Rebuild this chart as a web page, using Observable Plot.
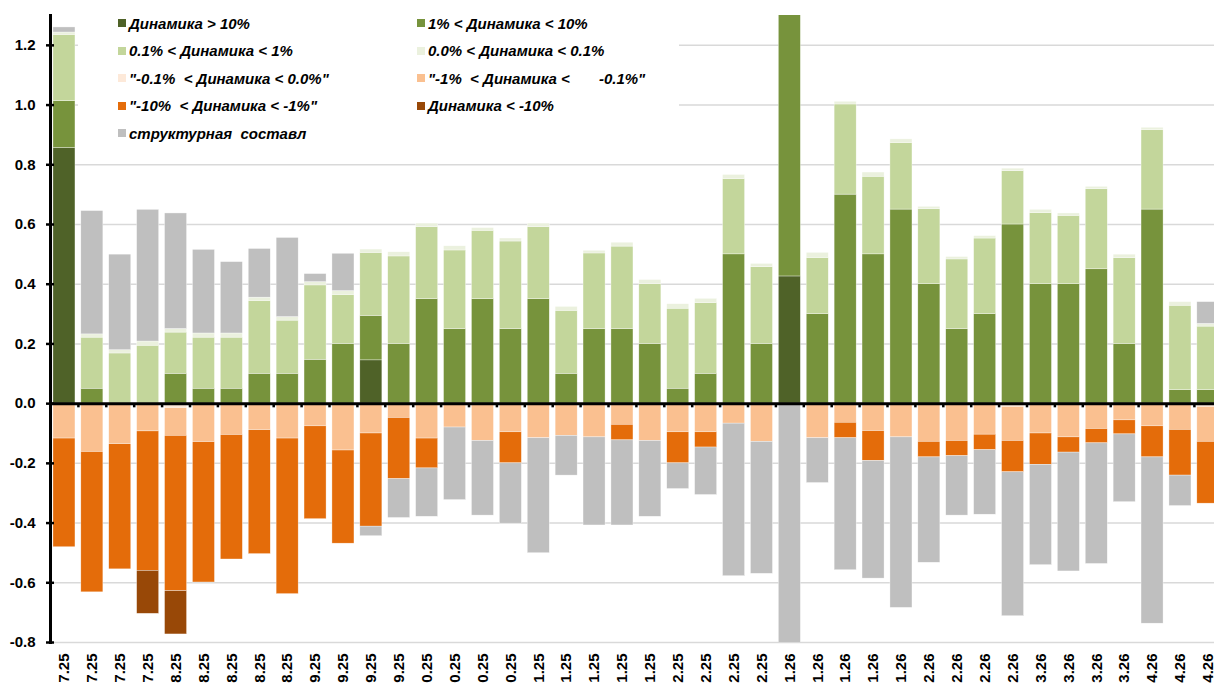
<!DOCTYPE html>
<html><head><meta charset="utf-8">
<script src="https://cdn.jsdelivr.net/npm/d3@7"></script>
<script src="https://cdn.jsdelivr.net/npm/@observablehq/plot@0.6"></script>
<style>
html,body{margin:0;padding:0;background:#fff;}
#wrap{position:relative;width:1214px;height:686px;overflow:hidden;font-family:"Liberation Sans",Arial,sans-serif;}
#legend{position:absolute;left:78px;top:0;width:601px;height:150px;background:#fff;}
.item{position:absolute;display:flex;align-items:center;height:18px;font:italic bold 15px "Liberation Sans",Arial,sans-serif;white-space:pre;color:#000;}
.sw{width:8px;height:8px;margin-right:3px;flex:none;}
</style></head><body>
<div id="wrap"><div id="chart"></div><div id="legend"></div></div>
<script>
const xLabels = ["7.25","7.25","7.25","7.25","8.25","8.25","8.25","8.25","8.25","9.25","9.25","9.25","9.25","0.25","0.25","0.25","0.25","1.25","1.25","1.25","1.25","1.25","2.25","2.25","2.25","2.25","1.26","1.26","1.26","1.26","1.26","2.26","2.26","2.26","2.26","3.26","3.26","3.26","3.26","4.26","4.26","4.26"];
const yTicks = [-0.8,-0.6,-0.4,-0.2,0,0.2,0.4,0.6,0.8,1.0,1.2];

const seriesNames = [
  "Динамика > 10%",
  "1% < Динамика < 10%",
  "0.1% < Динамика < 1%",
  "0.0% < Динамика < 0.1%",
  "\"-0.1%  < Динамика < 0.0%\"",
  "\"-1%  < Динамика <       -0.1%\"",
  "\"-10%  < Динамика < -1%\"",
  "Динамика < -10%",
  "структурная  составл"
];
const seriesColors = ["#4f6228","#77933c","#c3d69b","#ebf1de","#fde9d9","#fac090","#e46c0a","#984807","#bfbfbf"];

const dynOver10 = [0.856,0,0,0,0,0,0,0,0,0, 0,0.145,0,0,0,0,0,0,0,0, 0,0,0,0,0,0,0.426,0,0,0, 0,0,0,0,0,0,0,0,0,0, 0,0];
const dyn1to10 = [0.157,0.05,0,0,0.1,0.05,0.05,0.1,0.1,0.147, 0.2,0.149,0.2,0.35,0.25,0.35,0.25,0.35,0.1,0.25, 0.25,0.2,0.05,0.1,0.5,0.2,0.95,0.3,0.7,0.5, 0.65,0.4,0.25,0.3,0.6,0.4,0.4,0.45,0.2,0.65, 0.045,0.045];
const dyn01to1 = [0.222,0.171,0.168,0.194,0.138,0.171,0.171,0.244,0.178,0.249, 0.164,0.211,0.293,0.241,0.263,0.229,0.293,0.241,0.211,0.253, 0.276,0.2,0.268,0.237,0.252,0.257,0,0.188,0.302,0.26, 0.223,0.251,0.233,0.253,0.179,0.238,0.229,0.268,0.287,0.266, 0.283,0.213];
const dyn0to01 = [0.008,0.011,0.011,0.014,0.012,0.014,0.014,0.011,0.012,0.011, 0.013,0.011,0.014,0.012,0.014,0.009,0.01,0.012,0.013,0.009, 0.013,0.014,0.015,0.014,0.014,0.011,0,0.017,0.009,0.014, 0.012,0.008,0.008,0.008,0.008,0.011,0.008,0.008,0.012,0.008, 0.012,0.009];
const dynM01to0 = [0,0,0,0,-0.015,0,-0.005,0,0,0, 0,0,0,0,0,0,0,0,0,0, 0,0,0,0,0,0,0,0,0,0, 0,0,0,0,-0.011,0,0,0,0,0, 0,-0.011];
const dynM1toM01 = [-0.117,-0.162,-0.136,-0.093,-0.093,-0.129,-0.1,-0.089,-0.117,-0.076, -0.157,-0.1,-0.048,-0.117,-0.08,-0.125,-0.096,-0.116,-0.108,-0.113, -0.071,-0.125,-0.096,-0.096,-0.067,-0.128,0,-0.116,-0.064,-0.092, -0.113,-0.128,-0.125,-0.104,-0.114,-0.1,-0.113,-0.085,-0.056,-0.076, -0.088,-0.117];
const dynM10toM1 = [-0.364,-0.47,-0.419,-0.467,-0.52,-0.47,-0.417,-0.415,-0.521,-0.311, -0.312,-0.312,-0.205,-0.1,0,0,-0.104,0,0,0, -0.052,0,-0.104,-0.051,0,0,0,0,-0.052,-0.1, 0,-0.052,-0.051,-0.052,-0.105,-0.105,-0.051,-0.048,-0.047,-0.104, -0.153,-0.207];
const dynUnderM10 = [0,0,0,-0.144,-0.145,0,0,0,0,0, 0,0,0,0,0,0,0,0,0,0, 0,0,0,0,0,0,0,0,0,0, 0,0,0,0,0,0,0,0,0,0, 0,0];
const structural = [0.017,0.413,0.32,0.441,0.387,0.28,0.239,0.163,0.265,0.027, 0.125,-0.032,-0.13,-0.162,-0.243,-0.25,-0.202,-0.385,-0.133,-0.295, -0.285,-0.254,-0.086,-0.159,-0.511,-0.442,-0.81,-0.15,-0.442,-0.394, -0.571,-0.353,-0.199,-0.216,-0.482,-0.336,-0.398,-0.404,-0.227,-0.557, -0.102,0.073];

const seriesValues = [dynOver10, dyn1to10, dyn01to1, dyn0to01, dynM01to0, dynM1toM01, dynM10toM1, dynUnderM10, structural];

const data = [];
seriesValues.forEach((arr, s) => arr.forEach((v, i) => { if (v !== 0) data.push({i, v, s: seriesNames[s]}); }));

const idx = d3.range(xLabels.length);
const step = 27.9;
const font = "Liberation Sans, Arial, sans-serif";

const chart = Plot.plot({
  width: 1214, height: 686,
  marginLeft: 50, marginRight: 0, marginTop: 15, marginBottom: 44,
  style: {fontFamily: font, fontSize: "15px", fontWeight: "bold", background: "white", color: "black"},
  x: {type: "band", domain: idx, range: [50, 50 + step * idx.length], paddingInner: 0.21, paddingOuter: 0.105, label: null},
  y: {domain: [-0.8, 1.3], label: null},
  color: {domain: seriesNames, range: seriesColors},
  marks: [
    Plot.gridY(yTicks, {stroke: "#d9d9d9", strokeOpacity: 1, strokeWidth: 1.5}),
    Plot.barY(data, {x: "i", y: "v", fill: "s", stroke: "white", strokeWidth: 0.5, strokeOpacity: 0.7, clip: true}),
    Plot.ruleY([0], {stroke: "black", strokeWidth: 3}),
    Plot.ruleX(idx.slice(1), {x: d => d, y1: 0, y2: -0.014, dx: -step / 2, stroke: "black", strokeWidth: 2.5}),
    Plot.frame({anchor: "left", stroke: "black", strokeWidth: 3}),
    Plot.axisY(yTicks, {tickFormat: d => d.toFixed(1), tickSize: 8, dx: 4, tickPadding: 11, stroke: "black", strokeWidth: 2.5, fontSize: 15, fontWeight: "bold", label: null}),
    Plot.axisX({tickFormat: i => xLabels[i], tickSize: 0, tickRotate: -90, tickPadding: 11, fontSize: 15, fontWeight: "bold", label: null})
  ]
});
document.getElementById("chart").appendChild(chart);

// legend overlay
const legendOrder = [0,1,2,3,4,5,6,7,8];
const leg = document.getElementById("legend");
legendOrder.forEach((s, k) => {
  const col = k % 2, row = Math.floor(k / 2);
  const it = document.createElement("div");
  it.className = "item";
  it.style.left = (col === 0 ? 40 : 339) + "px";
  it.style.top = (14 + row * 27.5) + "px";
  const sw = document.createElement("span");
  sw.className = "sw";
  sw.style.background = seriesColors[s];
  const tx = document.createElement("span");
  tx.textContent = seriesNames[s];
  it.appendChild(sw); it.appendChild(tx);
  leg.appendChild(it);
});
</script>
</body></html>
